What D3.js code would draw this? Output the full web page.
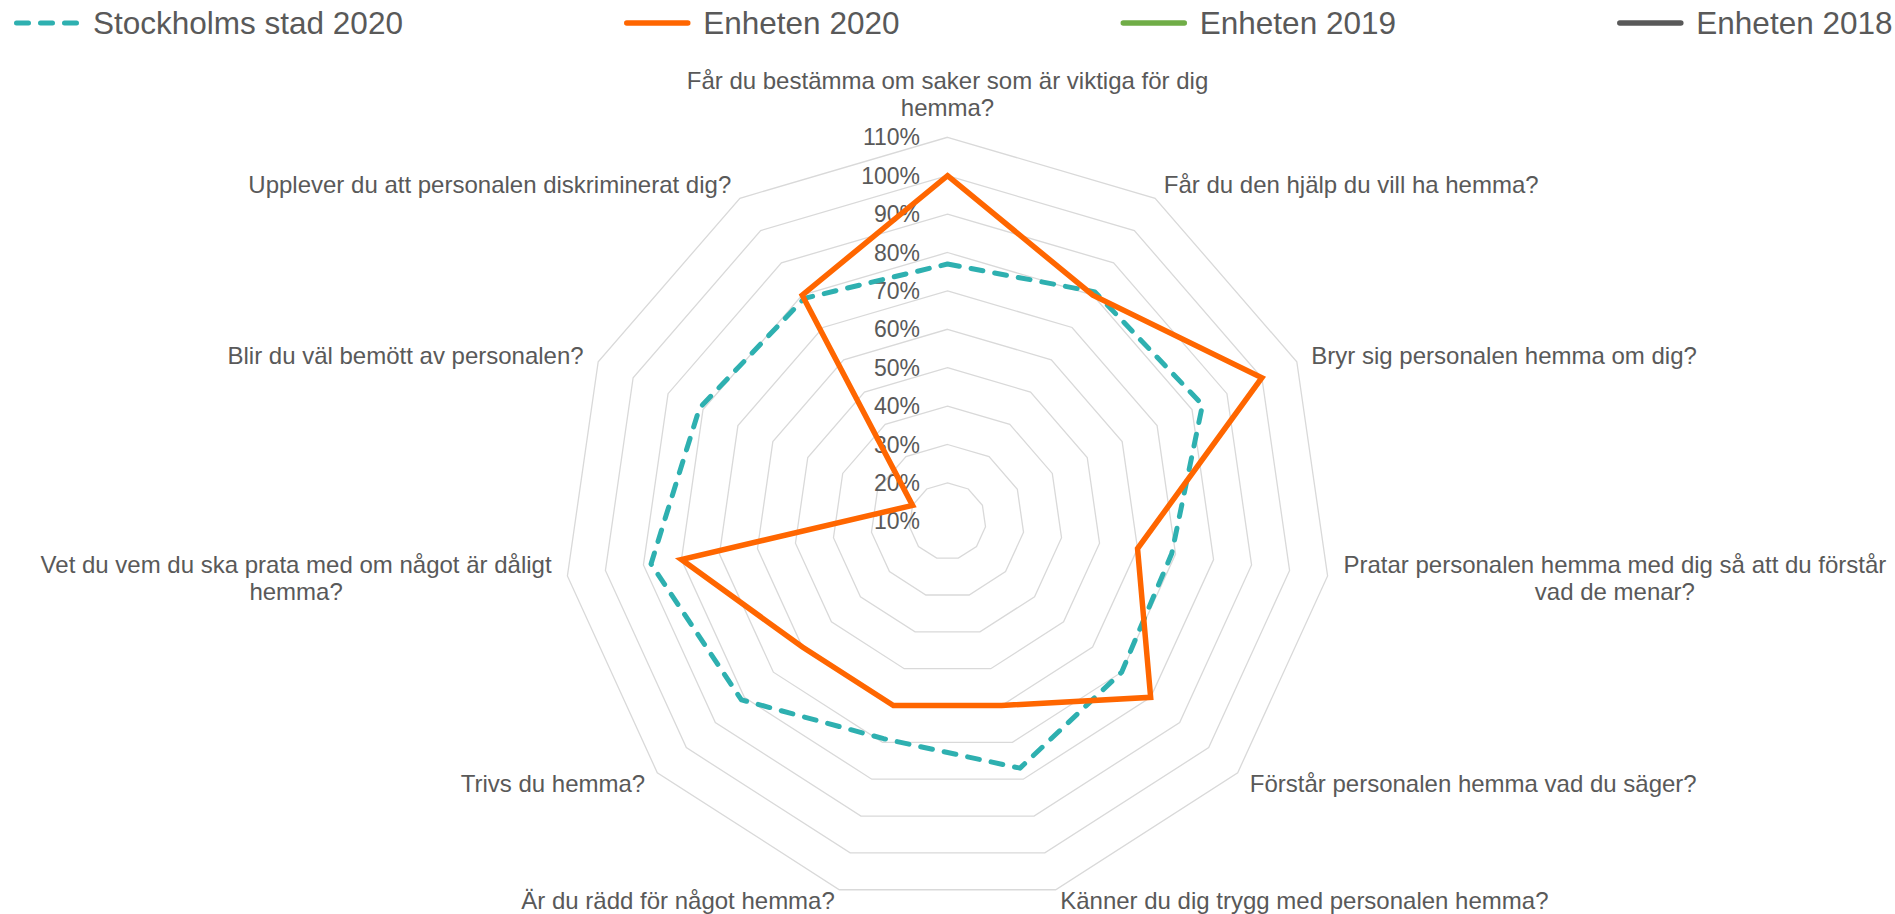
<!DOCTYPE html>
<html>
<head>
<meta charset="utf-8">
<script src="https://cdn.jsdelivr.net/npm/d3@7"></script>
<style>
  body { margin: 0; background: #fff; }
  text { font-family: "Liberation Sans", Arial, sans-serif; fill: #595959; }
</style>
</head>
<body>
<svg id="chart"></svg>
<script>
// Data
const categories = [
  "Får du bestämma om saker som är viktiga för dig hemma?",
  "Får du den hjälp du vill ha hemma?",
  "Bryr sig personalen hemma om dig?",
  "Pratar personalen hemma med dig så att du förstår vad de menar?",
  "Förstår personalen hemma vad du säger?",
  "Känner du dig trygg med personalen hemma?",
  "Är du rädd för något hemma?",
  "Trivs du hemma?",
  "Vet du vem du ska prata med om något är dåligt hemma?",
  "Blir du väl bemött av personalen?",
  "Upplever du att personalen diskriminerat dig?"
];
const tickValues = [10, 20, 30, 40, 50, 60, 70, 80, 90, 100, 110];
const stockholm2020 = [77, 81, 83, 69, 70, 77, 69, 81, 88, 81, 79];
const enheten2020 = [100, 80, 100, 60, 80, 60, 60, 60, 80, 20, 80];
const enheten2019 = [];
const enheten2018 = [];
const seriesNames = ["Stockholms stad 2020", "Enheten 2020", "Enheten 2019", "Enheten 2018"];

// Chart settings
const width = 1895, height = 914;
const cx = 947.5, cy = 521.3;
const colors = ["#2EB0B0", "#FF6600", "#70AD47", "#595959"];
const n = categories.length;

const svg = d3.select("#chart")
  .attr("width", width)
  .attr("height", height);

const r = d3.scaleLinear().domain([10, 110]).range([0, 384]);
const angle = i => i * 2 * Math.PI / n;

const g = svg.append("g").attr("transform", `translate(${cx},${cy})`);

// Grid rings
const ringLine = d3.lineRadial()
  .angle((d, i) => angle(i))
  .radius(d => r(d))
  .curve(d3.curveLinearClosed);

g.selectAll(".ring")
  .data(tickValues.slice(1))
  .enter()
  .append("path")
  .attr("class", "ring")
  .attr("d", t => ringLine(d3.range(n).map(() => t)))
  .attr("fill", "none")
  .attr("stroke", "#D9D9D9")
  .attr("stroke-width", 1.3);

// Tick labels
g.selectAll(".tick")
  .data(tickValues)
  .enter()
  .append("text")
  .attr("class", "tick")
  .attr("x", -27.5)
  .attr("y", d => -r(d))
  .attr("text-anchor", "end")
  .attr("dominant-baseline", "central")
  .style("font-size", "23px")
  .text(d => d + "%");

// Series
const seriesLine = d3.lineRadial()
  .angle((d, i) => angle(i))
  .radius(d => r(d))
  .curve(d3.curveLinearClosed);

g.append("path")
  .datum(stockholm2020)
  .attr("d", seriesLine)
  .attr("fill", "none")
  .attr("stroke", colors[0])
  .attr("stroke-width", 5)
  .attr("stroke-dasharray", "12 12")
  .attr("stroke-linecap", "round")
  .attr("stroke-linejoin", "round");

g.append("path")
  .datum(enheten2020)
  .attr("d", seriesLine)
  .attr("fill", "none")
  .attr("stroke", colors[1])
  .attr("stroke-width", 5.5)
  .attr("stroke-linejoin", "miter");

[enheten2019, enheten2018].forEach((vals, k) => {
  if (vals.length) {
    g.append("path").datum(vals).attr("d", seriesLine)
      .attr("fill", "none").attr("stroke", colors[k + 2]).attr("stroke-width", 5.5);
  }
});

// Category labels
const labelDist = r(110) + 16;
const lineH = 27.5;
const maxW = 560;

categories.forEach((cat, i) => {
  const a = angle(i);
  const px = labelDist * Math.sin(a), py = -labelDist * Math.cos(a);
  const t = g.append("text").style("font-size", "24px");

  // wrap words
  const words = cat.split(" ");
  const lines = [];
  let cur = "";
  const probe = t.append("tspan");
  words.forEach(w => {
    const test = cur ? cur + " " + w : w;
    probe.text(test);
    if (probe.node().getComputedTextLength() > maxW && cur) {
      lines.push(cur);
      cur = w;
    } else cur = test;
  });
  lines.push(cur);
  const widths = lines.map(l => { probe.text(l); return probe.node().getComputedTextLength(); });
  probe.remove();
  const blockW = d3.max(widths);

  let midX;
  if (Math.sin(a) > 0.05) midX = px + blockW / 2;
  else if (Math.sin(a) < -0.05) midX = px - blockW / 2;
  else midX = px;

  const blockH = lines.length * lineH;
  let top;
  if (Math.cos(a) > 0.9) top = py - blockH;
  else if (Math.cos(a) < -0.9) top = py - 5 - blockH / 2;
  else top = py - blockH / 2;

  lines.forEach((l, j) => {
    t.append("tspan")
      .attr("x", midX)
      .attr("y", top + lineH * (j + 0.5))
      .attr("text-anchor", "middle")
      .attr("dominant-baseline", "central")
      .text(l);
  });
});

// Legend
const legend = svg.append("g");
const legY = 23, sampleW = 66, textGap = 79;
const items = seriesNames.map((name, k) => {
  const it = legend.append("g");
  it.append("text")
    .attr("x", textGap)
    .attr("y", legY)
    .attr("dominant-baseline", "central")
    .style("font-size", "31.5px")
    .text(name);
  const line = it.append("line")
    .attr("x1", 2.5).attr("x2", sampleW - 2.5)
    .attr("y1", legY).attr("y2", legY)
    .attr("stroke", colors[k])
    .attr("stroke-linecap", "round")
    .attr("stroke-width", k === 0 ? 5 : 5.5);
  if (k === 0) line.attr("x2", sampleW).attr("stroke-dasharray", "12 12");
  return it;
});
const itemW = items.map(it => it.node().getBBox().width);
const legStart = 14, legEnd = 1890;
const gap = (legEnd - legStart - d3.sum(itemW)) / (items.length - 1);
let xPos = legStart;
items.forEach((it, k) => {
  it.attr("transform", `translate(${xPos},0)`);
  xPos += itemW[k] + gap;
});
</script>
</body>
</html>
